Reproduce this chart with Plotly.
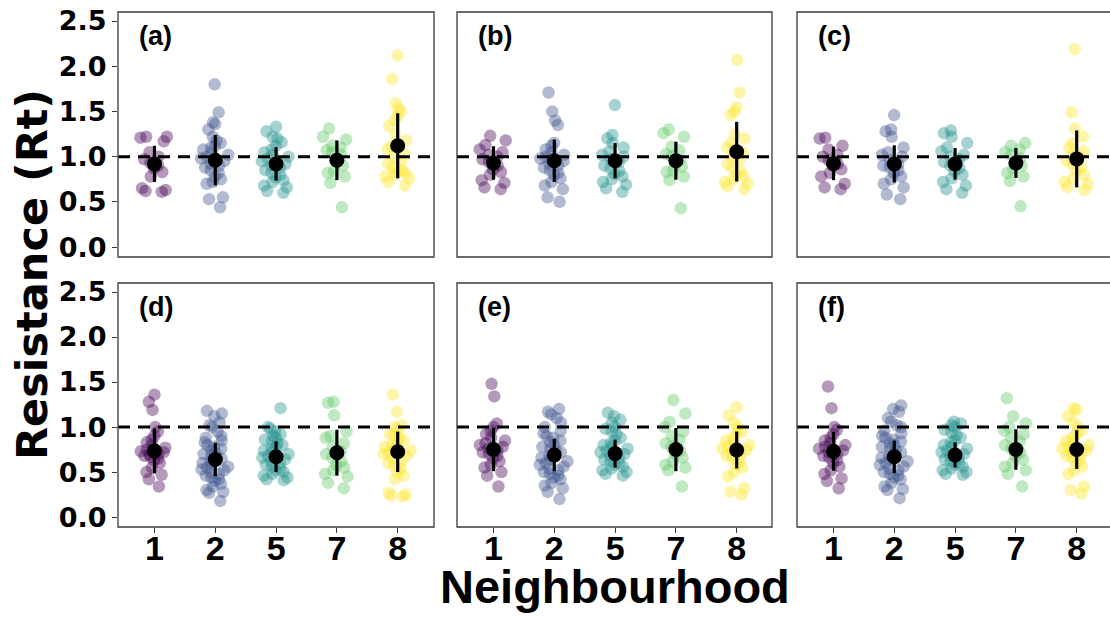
import plotly.graph_objects as go

# ---- categories and colours -------------------------------------------------
neighbourhoods = ["1", "2", "5", "7", "8"]
viridis5 = [(68, 1, 84), (59, 82, 139), (33, 144, 140), (93, 200, 99), (253, 231, 37)]
panel_tags = ["(a)", "(b)", "(c)", "(d)", "(e)", "(f)"]
y_ticks = [0.0, 0.5, 1.0, 1.5, 2.0, 2.5]

# ---- panel (a) --------------------------------------------------------------
a_1 = [1.22, 1.22, 1.21, 1.17, 1.05, 1.00, 0.97, 0.93, 0.90, 0.87, 0.83, 0.78, 0.65, 0.63, 0.62, 0.61]
a_2 = [1.80, 1.49, 1.38, 1.36, 1.30, 1.22, 1.18, 1.15, 1.12, 1.10, 1.08, 1.05, 1.02, 1.00, 0.98, 0.95,
       0.92, 0.90, 0.88, 0.85, 0.82, 0.78, 0.75, 0.72, 0.70, 0.55, 0.53, 0.44]
a_5 = [1.33, 1.28, 1.22, 1.20, 1.16, 1.12, 1.08, 1.05, 1.02, 1.00, 0.98, 0.95, 0.92, 0.90, 0.88, 0.85,
       0.82, 0.80, 0.77, 0.74, 0.72, 0.68, 0.66, 0.62, 0.60]
a_7 = [1.31, 1.22, 1.19, 1.12, 1.10, 1.07, 1.05, 1.02, 0.95, 0.90, 0.84, 0.82, 0.78, 0.71, 0.44]
a_8 = [2.12, 1.86, 1.59, 1.53, 1.50, 1.45, 1.40, 1.34, 1.24, 1.18, 1.12, 1.08, 1.03, 1.00, 0.95, 0.92,
       0.88, 0.85, 0.83, 0.82, 0.80, 0.78, 0.76, 0.72, 0.68]
a_mean = [0.92, 0.96, 0.92, 0.96, 1.12]
a_sd = [0.20, 0.28, 0.185, 0.22, 0.36]

# ---- panel (b) --------------------------------------------------------------
b_1 = [1.23, 1.18, 1.13, 1.08, 1.05, 1.02, 1.00, 0.97, 0.94, 0.90, 0.86, 0.83, 0.80, 0.74, 0.71, 0.66, 0.64]
b_2 = [1.71, 1.50, 1.40, 1.35, 1.15, 1.12, 1.08, 1.05, 1.02, 1.00, 0.98, 0.95, 0.92, 0.90, 0.88, 0.85,
       0.82, 0.80, 0.76, 0.72, 0.68, 0.64, 0.55, 0.50]
b_5 = [1.57, 1.24, 1.20, 1.15, 1.10, 1.06, 1.02, 1.00, 0.97, 0.94, 0.90, 0.87, 0.84, 0.81, 0.78, 0.75,
       0.72, 0.69, 0.65, 0.61]
b_7 = [1.30, 1.26, 1.22, 1.11, 1.07, 1.03, 1.00, 0.96, 0.92, 0.89, 0.85, 0.83, 0.78, 0.74, 0.43]
b_8 = [2.07, 1.71, 1.55, 1.50, 1.46, 1.25, 1.20, 1.15, 1.10, 1.05, 1.00, 0.97, 0.92, 0.88, 0.84, 0.80,
       0.78, 0.75, 0.72, 0.70, 0.67, 0.64]
b_mean = [0.93, 0.955, 0.955, 0.955, 1.055]
b_sd = [0.185, 0.235, 0.195, 0.21, 0.33]

# ---- panel (c) --------------------------------------------------------------
c_1 = [1.21, 1.20, 1.12, 1.08, 1.02, 1.00, 0.96, 0.92, 0.90, 0.86, 0.82, 0.78, 0.70, 0.66, 0.64]
c_2 = [1.46, 1.30, 1.28, 1.22, 1.10, 1.05, 1.02, 1.00, 0.96, 0.92, 0.90, 0.88, 0.85, 0.82, 0.78, 0.75,
       0.70, 0.66, 0.58, 0.53]
c_5 = [1.29, 1.26, 1.22, 1.15, 1.10, 1.06, 1.02, 1.00, 0.97, 0.94, 0.90, 0.87, 0.84, 0.80, 0.76, 0.72,
       0.68, 0.64, 0.60]
c_7 = [1.15, 1.12, 1.08, 1.05, 1.02, 0.98, 0.95, 0.90, 0.86, 0.82, 0.78, 0.73, 0.45]
c_8 = [2.19, 1.49, 1.31, 1.22, 1.15, 1.10, 1.06, 1.02, 1.00, 0.96, 0.92, 0.88, 0.85, 0.80, 0.76, 0.72,
       0.70, 0.66, 0.63]
c_mean = [0.925, 0.92, 0.92, 0.93, 0.975]
c_sd = [0.185, 0.205, 0.175, 0.165, 0.315]

# ---- panel (d) --------------------------------------------------------------
d_1 = [1.36, 1.28, 1.19, 1.00, 0.95, 0.90, 0.86, 0.83, 0.80, 0.77, 0.75, 0.73, 0.72, 0.70, 0.70, 0.68,
       0.67, 0.65, 0.63, 0.60, 0.55, 0.50, 0.47, 0.42, 0.34]
d_2 = [1.18, 1.15, 1.12, 1.05, 1.02, 1.00, 0.95, 0.90, 0.88, 0.85, 0.83, 0.80, 0.78, 0.76, 0.74, 0.72,
       0.70, 0.68, 0.66, 0.65, 0.63, 0.62, 0.60, 0.58, 0.56, 0.55, 0.53, 0.52, 0.50, 0.48, 0.46, 0.44,
       0.42, 0.40, 0.37, 0.34, 0.30, 0.28, 0.27, 0.18]
d_5 = [1.21, 1.00, 0.98, 0.95, 0.92, 0.90, 0.88, 0.86, 0.84, 0.82, 0.80, 0.78, 0.76, 0.74, 0.72, 0.70,
       0.68, 0.66, 0.64, 0.62, 0.60, 0.58, 0.56, 0.54, 0.52, 0.50, 0.48, 0.46, 0.44, 0.42, 0.41]
d_7 = [1.28, 1.27, 1.13, 0.95, 0.90, 0.88, 0.82, 0.78, 0.73, 0.70, 0.66, 0.62, 0.58, 0.55, 0.52, 0.48,
       0.45, 0.38, 0.32]
d_8 = [1.36, 1.17, 1.02, 1.00, 0.96, 0.92, 0.90, 0.88, 0.85, 0.82, 0.80, 0.78, 0.76, 0.74, 0.72, 0.70,
       0.68, 0.65, 0.62, 0.60, 0.57, 0.54, 0.50, 0.46, 0.42, 0.27, 0.25, 0.24, 0.23]
d_mean = [0.735, 0.64, 0.67, 0.715, 0.725]
d_sd = [0.25, 0.185, 0.17, 0.255, 0.225]

# ---- panel (e) --------------------------------------------------------------
e_1 = [1.48, 1.34, 1.04, 1.00, 0.96, 0.92, 0.88, 0.85, 0.82, 0.80, 0.78, 0.76, 0.74, 0.72, 0.70, 0.68,
       0.65, 0.62, 0.58, 0.55, 0.50, 0.46, 0.34]
e_2 = [1.20, 1.17, 1.14, 1.10, 1.05, 1.00, 0.96, 0.93, 0.90, 0.88, 0.85, 0.83, 0.80, 0.78, 0.76, 0.74,
       0.72, 0.70, 0.68, 0.66, 0.64, 0.62, 0.60, 0.58, 0.56, 0.54, 0.52, 0.50, 0.48, 0.46, 0.44, 0.42,
       0.38, 0.35, 0.32, 0.28, 0.20]
e_5 = [1.16, 1.12, 1.08, 1.05, 1.00, 0.98, 0.95, 0.92, 0.88, 0.85, 0.82, 0.80, 0.78, 0.76, 0.74, 0.72,
       0.70, 0.68, 0.66, 0.64, 0.62, 0.60, 0.58, 0.56, 0.54, 0.52, 0.50, 0.48, 0.46]
e_7 = [1.30, 1.15, 1.06, 1.00, 0.95, 0.90, 0.86, 0.82, 0.78, 0.74, 0.70, 0.66, 0.62, 0.58, 0.55, 0.52, 0.34]
e_8 = [1.22, 1.13, 1.05, 1.00, 0.95, 0.92, 0.88, 0.85, 0.82, 0.80, 0.78, 0.76, 0.74, 0.72, 0.70, 0.68,
       0.65, 0.62, 0.58, 0.55, 0.50, 0.45, 0.32, 0.28, 0.25]
e_mean = [0.75, 0.69, 0.705, 0.75, 0.745]
e_sd = [0.24, 0.18, 0.155, 0.24, 0.205]

# ---- panel (f) --------------------------------------------------------------
f_1 = [1.45, 1.21, 1.00, 0.97, 0.92, 0.88, 0.85, 0.82, 0.80, 0.78, 0.76, 0.74, 0.72, 0.70, 0.68, 0.66,
       0.63, 0.60, 0.56, 0.52, 0.48, 0.43, 0.40, 0.32]
f_2 = [1.24, 1.20, 1.17, 1.10, 1.06, 1.02, 1.00, 0.96, 0.93, 0.90, 0.88, 0.86, 0.84, 0.82, 0.80, 0.78,
       0.76, 0.74, 0.72, 0.70, 0.68, 0.66, 0.64, 0.62, 0.60, 0.58, 0.56, 0.54, 0.52, 0.50, 0.48, 0.46,
       0.44, 0.42, 0.38, 0.34, 0.31, 0.30, 0.21]
f_5 = [1.06, 1.04, 1.02, 1.00, 0.97, 0.94, 0.91, 0.88, 0.85, 0.83, 0.80, 0.78, 0.76, 0.74, 0.72, 0.70,
       0.68, 0.66, 0.64, 0.62, 0.60, 0.58, 0.56, 0.54, 0.52, 0.50, 0.48, 0.47]
f_7 = [1.32, 1.12, 1.04, 1.00, 0.96, 0.92, 0.88, 0.84, 0.80, 0.76, 0.72, 0.68, 0.64, 0.60, 0.56, 0.52,
       0.48, 0.34]
f_8 = [1.21, 1.19, 1.12, 1.05, 1.00, 0.96, 0.92, 0.88, 0.85, 0.82, 0.80, 0.78, 0.76, 0.74, 0.72, 0.70,
       0.68, 0.66, 0.63, 0.60, 0.56, 0.52, 0.48, 0.34, 0.30, 0.26]
f_mean = [0.73, 0.67, 0.69, 0.75, 0.75]
f_sd = [0.215, 0.18, 0.14, 0.225, 0.215]

panels = [
    ([a_1, a_2, a_5, a_7, a_8], a_mean, a_sd),
    ([b_1, b_2, b_5, b_7, b_8], b_mean, b_sd),
    ([c_1, c_2, c_5, c_7, c_8], c_mean, c_sd),
    ([d_1, d_2, d_5, d_7, d_8], d_mean, d_sd),
    ([e_1, e_2, e_5, e_7, e_8], e_mean, e_sd),
    ([f_1, f_2, f_5, f_7, f_8], f_mean, f_sd),
]

# ---- layout geometry (pixels) ----------------------------------------------
W, H = 1110, 617
col_px = [(118, 434), (457, 772), (797, 1110)]
row_px = [(12, 257), (283, 527)]
px_per_cat = 60.8
y_range = [-0.11, 2.6]

ARIAL = "Liberation Sans, Arial, sans-serif"
WIDE = "DejaVu Sans, Verdana, sans-serif"
FRAME = "#3a3a3a"

fig = go.Figure()
layout = dict(
    width=W, height=H,
    margin=dict(l=0, r=0, t=0, b=0),
    paper_bgcolor="white", plot_bgcolor="white",
    showlegend=False, boxmode="overlay", boxgap=0.3,
    template="none",
    font=dict(family=ARIAL, color="black"),
)
shapes, annotations = [], []

for k, (groups, means, sds) in enumerate(panels):
    r, c = divmod(k, 3)
    n = k + 1
    suffix = "" if n == 1 else str(n)
    xa, ya = f"x{suffix}", f"y{suffix}"
    xkey, ykey = f"xaxis{suffix}", f"yaxis{suffix}"

    x0, x1 = col_px[c]
    top, bot = row_px[r]
    x_span = (x1 - x0) / px_per_cat

    layout[xkey] = dict(
        domain=[x0 / W, x1 / W], anchor=ya,
        type="category", categoryorder="array", categoryarray=neighbourhoods,
        range=[-0.6, -0.6 + x_span], showgrid=False, zeroline=False, showline=False,
        automargin=False, fixedrange=True,
        ticks="outside" if r == 1 else "", ticklen=5, tickwidth=1.3, tickcolor=FRAME,
        showticklabels=(r == 1), ticklabelstandoff=-14,
        tickfont=dict(family=ARIAL, size=34, color="black", weight="bold"),
    )
    layout[ykey] = dict(
        domain=[(H - bot) / H, (H - top) / H], anchor=xa,
        range=y_range, tickvals=y_ticks, ticktext=[f"{v:.1f}" for v in y_ticks],
        showgrid=False, zeroline=False, showline=False, automargin=False, fixedrange=True,
        ticks="outside" if c == 0 else "", ticklen=5, tickwidth=1.3, tickcolor=FRAME,
        showticklabels=(c == 0),
        tickfont=dict(family=WIDE, size=27, color="black", weight="bold"),
    )

    # jittered individual observations
    for cat, vals, (cr, cg, cb) in zip(neighbourhoods, groups, viridis5):
        fig.add_trace(go.Box(
            x=[cat] * len(vals), y=vals, xaxis=xa, yaxis=ya,
            boxpoints="all", jitter=1.0, pointpos=0,
            fillcolor="rgba(0,0,0,0)", line=dict(width=0, color="rgba(0,0,0,0)"),
            marker=dict(size=12.5, color=f"rgba({cr},{cg},{cb},0.4)", line=dict(width=0)),
            hoveron="points",
        ))

    # reference line at Rt = 1
    shapes.append(dict(
        type="line", xref=f"{xa} domain", yref=ya, x0=0, x1=1, y0=1, y1=1,
        line=dict(color="black", width=3, dash="12px,8px"), layer="above",
    ))

    # mean +/- sd
    fig.add_trace(go.Scatter(
        x=neighbourhoods, y=means, xaxis=xa, yaxis=ya, mode="markers",
        marker=dict(size=15, color="black"),
        error_y=dict(type="data", array=sds, visible=True, color="black", thickness=3.2, width=0),
    ))

    # panel frame (right edge of the last column runs past the page)
    shapes.append(dict(
        type="rect", xref=f"{xa} domain", yref=f"{ya} domain",
        x0=0, x1=1.02 if c == 2 else 1, y0=0, y1=1,
        line=dict(color=FRAME, width=1.3), fillcolor="rgba(0,0,0,0)", layer="above",
    ))

    annotations.append(dict(
        text=f"<b>{panel_tags[k]}</b>", xref=f"{xa} domain", yref=f"{ya} domain",
        x=19 / (x1 - x0), y=1 - 24 / (bot - top), xanchor="left", yanchor="middle",
        showarrow=False, font=dict(family=ARIAL, size=27, color="black"),
    ))

annotations.append(dict(
    text="<b>Resistance (Rt)</b>", xref="paper", yref="paper",
    x=32 / W, y=(H - 275) / H, xanchor="center", yanchor="middle", textangle=-90,
    showarrow=False, font=dict(family=WIDE, size=43, color="black"),
))
annotations.append(dict(
    text="<b>Neighbourhood</b>", xref="paper", yref="paper",
    x=615 / W, y=(H - 586) / H, xanchor="center", yanchor="middle",
    showarrow=False, font=dict(family=ARIAL, size=47, color="black"),
))

layout["shapes"] = shapes
layout["annotations"] = annotations
fig.update_layout(**layout)

fig.write_html("out.html", config={"displayModeBar": False})
